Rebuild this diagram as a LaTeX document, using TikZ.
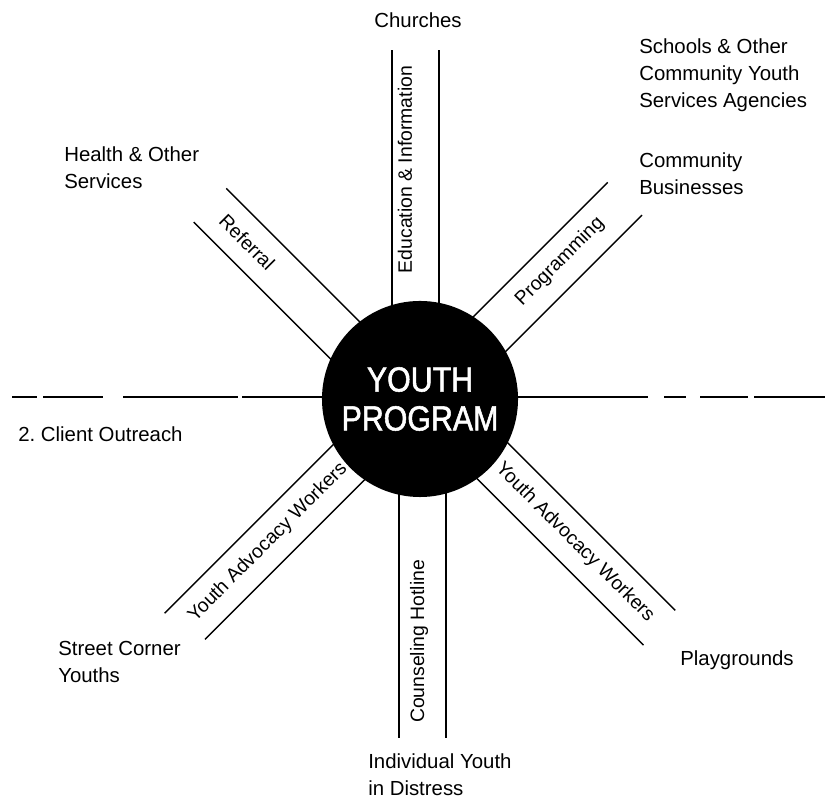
\documentclass[tikz,border=0pt]{standalone}
\usepackage{fontspec}
\setmainfont{Liberation Sans}
\newfontfamily\hubfont{Liberation Sans}[FakeStretch=0.87,FakeBold=1.5]
\frenchspacing

\tikzset{
  wall/.style={line width=1pt},
  rule/.style={line width=0.8pt},
  place/.style={font=\fontsize{14.5}{19.5}\selectfont, inner sep=0pt, align=left},
  chan/.style={font=\fontsize{13.8}{16}\selectfont, inner sep=0pt},
  hub/.style={circle, fill=black, text=white, minimum size=4.9cm, inner sep=0pt,
    align=center, font=\hubfont\fontsize{24.8}{27.7}\selectfont},
}

\begin{document}
\begin{tikzpicture}[x=0.025cm,y=0.025cm]
    \useasboundingbox (0,0) rectangle (826,799);
    \coordinate (c) at (420,400);

    % dividing line, broken towards the edges
    \foreach \a/\b in {12/37,43/103,123/238,242/420,420/648,664/686,700/748,754/825}
      \draw[rule] (\a,402) -- (\b,402);

    % channels: angle / first wall (offset, length) / second wall / label (along, across) / text angle / text
    \foreach \ang/\ya/\la/\yb/\lb/\s/\t/\rot/\txt [count=\i] in {
        90/28/349/-19/349/229.5/15/90/Education \& Information,
        135/-12/286/35/285/233/11.5/-45/Referral,
        45/20.5/286/-27/287/196/-2/45/Programming,
        -45/31/330/-16/332/211/8/-45/Youth Advocacy Workers,
        -135/-29/332/18/322/209/-6/45/Youth Advocacy Workers,
        -90/-21/339/26/339/242.5/-1/90/Counseling Hotline}
    {
      \begin{scope}[shift={(c)}, rotate=\ang]
        \draw[wall] (0,\ya) -- (\la,\ya);
        \draw[wall] (0,\yb) -- (\lb,\yb);
        \node[chan, rotate=\rot] (chan\i) at (\s,\t) {\txt};
      \end{scope}
    }

    \node[hub] (hub) at (c) {YOUTH\\PROGRAM};

    % places at the ends of the channels
    \node[place, anchor=base] (churches) at (418,771) {Churches};
    \node[place, anchor=north west] (schools) at (639,761)
      {Schools \& Other\\Community Youth\\Services Agencies};
    \node[place, anchor=north west] (business) at (639,647) {Community\\Businesses};
    \node[place, anchor=north west] (health) at (64,653) {Health \& Other\\Services};
    \node[place, anchor=base west] (outreach) at (18,357) {2. Client Outreach};
    \node[place, anchor=north west] (corner) at (58,158) {Street Corner\\Youths};
    \node[place, anchor=base west] (playgrounds) at (680,133) {Playgrounds};
    \node[place, anchor=north west] (distress) at (368,46) {Individual Youth\\in Distress};
  \end{tikzpicture}
\end{document}
